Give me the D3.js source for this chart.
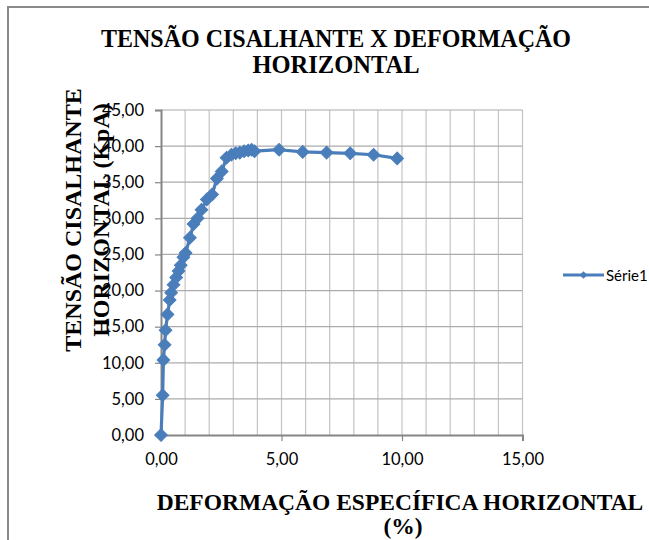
<!DOCTYPE html>
<html><head><meta charset="utf-8">
<script src="https://cdn.jsdelivr.net/npm/d3@7"></script>
<style>body{margin:0;background:#fff}svg{display:block}</style>
</head><body>
<svg id="c" width="649" height="540"></svg>
<script>
const deformacao = [0, 0.07, 0.1, 0.15, 0.19, 0.27, 0.36, 0.42, 0.52, 0.63, 0.73, 0.82, 0.93, 1.02, 1.2, 1.35, 1.52, 1.68, 1.9, 2.12, 2.32, 2.52, 2.72, 2.92, 3.1, 3.27, 3.45, 3.62, 3.76, 3.88, 4.9, 5.88, 6.87, 7.85, 8.82, 9.8];
const tensao = [0, 5.5, 10.4, 12.5, 14.5, 16.7, 18.7, 19.7, 20.8, 21.8, 22.7, 23.5, 24.6, 25.2, 27.3, 29.2, 30.0, 31.2, 32.6, 33.3, 35.5, 36.5, 38.4, 38.8, 39.0, 39.1, 39.3, 39.4, 39.5, 39.3, 39.5, 39.2, 39.1, 39.0, 38.8, 38.3];
const xTicks = [0, 5, 10, 15];
const yTicks = [0, 5, 10, 15, 20, 25, 30, 35, 40, 45];
const seriesName = "Série1";
const titleLines = ["TENSÃO CISALHANTE X DEFORMAÇÃO", "HORIZONTAL"];
const yTitleLines = ["TENSÃO CISALHANTE", "HORIZONTAL (KpA)"];
const xTitleLines = ["DEFORMAÇÃO ESPECÍFICA HORIZONTAL", "(%)"];

const fmt = v => d3.format(".2f")(v).replace(".", ",");
const svg = d3.select("#c");
const blue = "#4a7ebb";

svg.append("rect").attr("x", 8).attr("y", 7).attr("width", 660).attr("height", 560)
  .attr("fill", "none").attr("stroke", "#8a8a8a").attr("stroke-width", 2);

const x = d3.scaleLinear().domain([0, 15]).range([161, 522.5]);
const y = d3.scaleLinear().domain([0, 45]).range([435, 110]);

// gridlines
const g = svg.append("g");
g.selectAll("line.v").data(d3.range(1, 16)).join("line")
  .attr("x1", d => x(d)).attr("x2", d => x(d)).attr("y1", y(0)).attr("y2", y(45))
  .attr("stroke", "#c4c4c4").attr("stroke-width", 1.2);
g.selectAll("line.h").data(yTicks.slice(1)).join("line")
  .attr("x1", x(0)).attr("x2", x(15)).attr("y1", d => y(d)).attr("y2", d => y(d))
  .attr("stroke", "#ababab").attr("stroke-width", 1.2);

// axes
const tickFont = "Lato, 'Open Sans', sans-serif";
const yAxis = svg.append("g").attr("transform", `translate(${x(0)},0)`)
  .call(d3.axisLeft(y).tickValues(yTicks).tickFormat(fmt).tickSize(6).tickPadding(11));
const xAxis = svg.append("g").attr("transform", `translate(0,${y(0)})`)
  .call(d3.axisBottom(x).tickValues(xTicks).tickFormat(fmt).tickSize(6).tickPadding(12));
[xAxis, yAxis].forEach(a => {
  a.select(".domain").attr("stroke", "#868686").attr("stroke-width", 2);
  a.selectAll(".tick line").attr("stroke", "#868686").attr("stroke-width", 1.2);
  a.selectAll(".tick text").attr("font-family", tickFont).attr("font-size", 16.5).attr("fill", "#000");
});

// series
const pts = deformacao.map((d, i) => [d, tensao[i]]);
svg.append("path").datum(pts)
  .attr("d", d3.line().x(d => x(d[0])).y(d => y(d[1])))
  .attr("fill", "none").attr("stroke", blue).attr("stroke-width", 3.2).attr("stroke-linejoin", "round");
svg.selectAll("path.m").data(pts).join("path")
  .attr("transform", d => `translate(${x(d[0])},${y(d[1])}) rotate(45)`)
  .attr("d", d3.symbol().type(d3.symbolSquare).size(80)())
  .attr("fill", blue).attr("stroke", blue).attr("stroke-width", 1);

// titles
const serif = "'Liberation Serif', 'Times New Roman', serif";
svg.append("text").attr("x", 336).attr("y", 47).attr("text-anchor", "middle")
  .attr("font-family", serif).attr("font-weight", "bold").attr("font-size", 24.5)
  .attr("textLength", 470).attr("lengthAdjust", "spacingAndGlyphs").text(titleLines[0]);
svg.append("text").attr("x", 336).attr("y", 73).attr("text-anchor", "middle")
  .attr("font-family", serif).attr("font-weight", "bold").attr("font-size", 24.5).text(titleLines[1]);

const yt = svg.append("g").attr("transform", "translate(0,220) rotate(-90)");
yt.append("text").attr("x", 0).attr("y", 81).attr("text-anchor", "middle")
  .attr("font-family", serif).attr("font-weight", "bold").attr("font-size", 24).text(yTitleLines[0]);
yt.append("text").attr("x", 0).attr("y", 109).attr("text-anchor", "middle")
  .attr("font-family", serif).attr("font-weight", "bold").attr("font-size", 24).text(yTitleLines[1]);

svg.append("text").attr("x", 400).attr("y", 510).attr("text-anchor", "middle")
  .attr("font-family", serif).attr("font-weight", "bold").attr("font-size", 23.5).text(xTitleLines[0]);
svg.append("text").attr("x", 403).attr("y", 534).attr("text-anchor", "middle")
  .attr("font-family", serif).attr("font-weight", "bold").attr("font-size", 23.5).text(xTitleLines[1]);

// legend
svg.append("line").attr("x1", 563).attr("x2", 604).attr("y1", 275).attr("y2", 275)
  .attr("stroke", blue).attr("stroke-width", 3.2);
svg.append("path").attr("transform", "translate(583.5,275) rotate(45)")
  .attr("d", d3.symbol().type(d3.symbolSquare).size(30)()).attr("fill", blue);
svg.append("text").attr("x", 606).attr("y", 280.5).attr("font-family", tickFont)
  .attr("font-size", 15).attr("fill", "#000").text(seriesName);
</script>
</body></html>
